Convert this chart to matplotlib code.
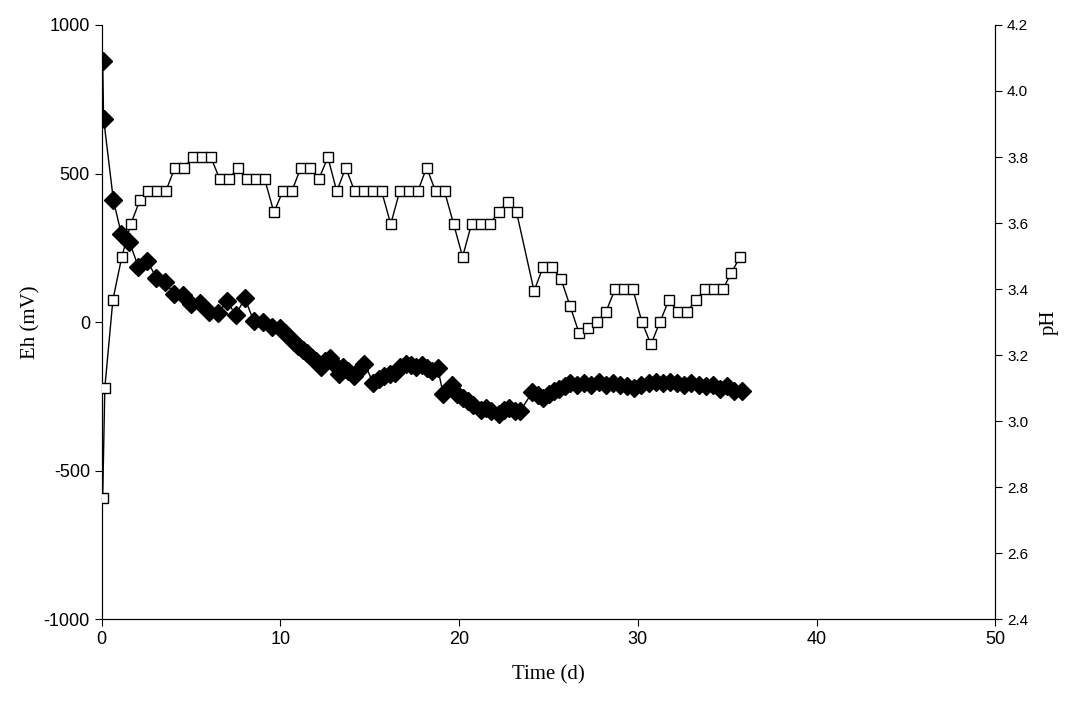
import matplotlib
matplotlib.use("Agg")
import matplotlib.pyplot as plt
import numpy as np

plt.rcParams["axes.unicode_minus"] = False
plt.rcParams["font.family"] = ["Liberation Sans", "DejaVu Sans"]

# Eh (mV), filled diamonds
eh_t = [0.05, 0.1, 0.65, 1.1, 1.55, 2.05, 2.55, 3.05, 3.55, 4.05, 4.55, 5.0, 5.5, 6.0,
        6.5, 7.0, 7.5, 8.0, 8.5, 9.0, 9.5, 10.0, 10.25, 10.5, 10.75, 11.0, 11.25, 11.5,
        11.75, 12.0, 12.25, 12.5, 12.75, 13.0, 13.25, 13.5, 13.75, 14.1, 14.4, 14.7,
        15.2, 15.5, 15.8, 16.1, 16.4, 16.7, 17.0, 17.3, 17.6, 17.9, 18.2, 18.5, 18.8,
        19.1, 19.6, 19.9, 20.2, 20.5, 20.8, 21.2, 21.5, 21.8, 22.2, 22.5, 22.8, 23.1,
        23.4, 24.1, 24.4, 24.7, 25.0, 25.3, 25.6, 25.9, 26.2, 26.6, 27.0, 27.4, 27.8,
        28.2, 28.6, 29.0, 29.4, 29.8, 30.2, 30.6, 31.0, 31.4, 31.8, 32.2, 32.6, 33.0,
        33.4, 33.8, 34.2, 34.6, 35.0, 35.4, 35.8]
eh = [880, 685, 410, 295, 270, 185, 205, 150, 135, 95, 90, 60, 65, 35,
      30, 70, 25, 80, 5, 0, -15, -20, -35, -50, -65, -80, -95, -105,
      -120, -130, -150, -130, -120, -140, -175, -150, -165, -180, -160, -140,
      -205, -190, -180, -175, -170, -150, -140, -145, -150, -145, -155, -165, -155,
      -240, -210, -240, -255, -265, -280, -295, -290, -300, -310, -295, -290, -300,
      -300, -235, -245, -255, -240, -230, -225, -215, -205, -210, -205, -210, -200,
      -210, -205, -210, -215, -220, -210, -205, -200, -205, -200, -205, -210, -205,
      -210, -215, -210, -225, -215, -230, -230]

# pH, open squares (read in Eh-equivalent pixel units, converted below)
ph_t = [0.05, 0.17, 0.62, 1.12, 1.62, 2.13, 2.58, 3.08, 3.58, 4.09, 4.59, 5.1, 5.6,
        6.1, 6.61, 7.11, 7.61, 8.12, 8.62, 9.12, 9.63, 10.13, 10.63, 11.14, 11.64,
        12.14, 12.65, 13.15, 13.65, 14.15, 14.66, 15.16, 15.66, 16.17, 16.67, 17.17,
        17.68, 18.18, 18.68, 19.18, 19.69, 20.19, 20.69, 21.2, 21.7, 22.2, 22.71,
        23.21, 24.19, 24.69, 25.19, 25.7, 26.2, 26.7, 27.2, 27.71, 28.21, 28.72,
        29.22, 29.72, 30.23, 30.73, 31.23, 31.74, 32.24, 32.74, 33.25, 33.75, 34.25,
        34.75, 35.22, 35.72]
ph_eq = [-590, -220, 75, 220, 330, 410, 440, 440, 440, 520, 520, 555, 555, 555, 480,
         480, 520, 480, 480, 480, 370, 440, 440, 520, 520, 480, 555, 440, 520, 440,
         440, 440, 440, 330, 440, 440, 440, 520, 440, 440, 330, 220, 330, 330, 330,
         370, 405, 370, 105, 185, 185, 145, 55, -35, -20, 0, 35, 110, 110, 110, 0,
         -75, 0, 75, 35, 35, 75, 110, 110, 110, 165, 220]
ph = [3.3 + 0.0009 * v for v in ph_eq]

fig = plt.figure(figsize=(10.83, 7.12), dpi=100)
ax = fig.add_axes([0.094, 0.13, 0.825, 0.835])
ax.plot(eh_t, eh, "-", color="black", lw=1, marker="D", ms=9,
        mfc="black", mec="black", zorder=3)
ax.set_xlim(0, 50)
ax.set_ylim(-1000, 1000)
ax.set_xticks([0, 10, 20, 30, 40, 50])
ax.set_yticks([-1000, -500, 0, 500, 1000])
ax.tick_params(labelsize=13, direction="out", length=5)
ax.set_xlabel("Time (d)", fontsize=15, family="Liberation Serif", labelpad=12)
ax.set_ylabel("Eh (mV)", fontsize=15, family="Liberation Serif", labelpad=2)
ax.spines["top"].set_visible(False)

ax2 = ax.twinx()
ax2.plot(ph_t, ph, "-", color="black", lw=1, marker="s", ms=6.5,
         mfc="white", mec="black", mew=1.0, zorder=4)
ax2.set_ylim(2.4, 4.2)
ax2.set_yticks(np.arange(2.4, 4.21, 0.2))
ax2.set_yticklabels([f"{v:.1f}" for v in np.arange(2.4, 4.21, 0.2)])
ax2.tick_params(labelsize=11, direction="out", length=5)
ax2.set_ylabel("pH", fontsize=15, family="Liberation Serif", labelpad=8)
ax2.spines["top"].set_visible(False)

fig.savefig("out.png", dpi=100)
